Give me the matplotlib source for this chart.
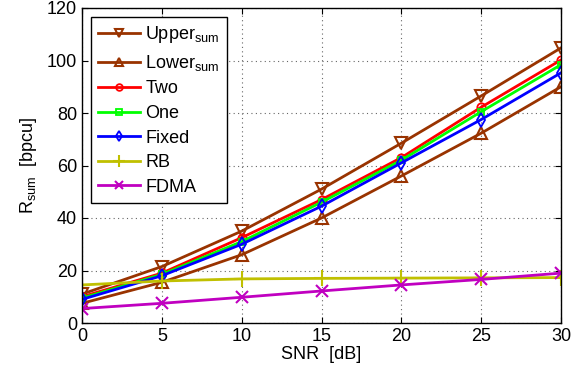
import matplotlib
matplotlib.use("Agg")
import matplotlib.pyplot as plt

plt.rcParams['font.family'] = ['Liberation Sans', 'DejaVu Sans']
plt.rcParams['mathtext.fontset'] = 'custom'
plt.rcParams['mathtext.rm'] = 'Liberation Sans'

snr = [0, 5, 10, 15, 20, 25, 30]
upper = [11, 21.5, 35, 51, 68.5, 86.5, 104.8]
lower = [7.5, 15.5, 26, 40, 56, 72.3, 90]
two = [10, 19, 32.5, 47, 63, 82.2, 100.2]
one = [9.5, 18.5, 31, 46, 62, 80.5, 98.4]
fixed = [9, 18, 30, 44.5, 61, 77.5, 95.3]
rb = [14.5, 16, 16.8, 17, 17.1, 17.2, 17.3]
fdma = [5.5, 7.5, 9.8, 12.2, 14.5, 16.6, 19]

brown = '#993300'
fig = plt.figure(figsize=(5.82, 3.71), dpi=100)
ax = fig.add_axes([82/582, 48/371, 479/582, 315/371])

ax.plot(snr, upper, color=brown, marker='v', ms=8, mfc='none', mew=1.5, lw=2, label=r'Upper$_{\rm sum}$')
ax.plot(snr, lower, color=brown, marker='^', ms=8, mfc='none', mew=1.5, lw=2, label=r'Lower$_{\rm sum}$')
ax.plot(snr, two, color='red', marker='o', ms=6, mfc='none', mew=1.3, lw=2, label='Two')
ax.plot(snr, one, color='#00ff00', marker='s', ms=5, mfc='none', mew=1.3, lw=2, label='One')
ax.plot(snr, fixed, color='blue', marker='d', ms=7, mfc='none', mew=1.3, lw=2, label='Fixed')
ax.plot(snr, rb, color='#c0c000', marker='+', ms=11, mew=1.5, lw=2, label='RB')
ax.plot(snr, fdma, color='#c000c0', marker='x', ms=8, mew=1.5, lw=2, label='FDMA')

ax.set_xlim(0, 30)
ax.set_ylim(0, 120)
ax.set_xticks(snr)
ax.set_yticks(range(0, 121, 20))
ax.grid(True, linestyle=(0, (1, 3)), color='#666666', lw=0.8)
ax.tick_params(direction='in', labelsize=13, length=4, top=True, right=True)
for s in ax.spines.values():
    s.set_linewidth(1.0)
ax.set_xlabel('SNR  [dB]', fontsize=13, labelpad=1)
ax.set_ylabel(r'R$_{\rm sum}$  [bpcu]', fontsize=13, labelpad=6)

leg = ax.legend(loc='upper left', fontsize=13, fancybox=False, edgecolor='black',
                framealpha=1, borderaxespad=0.5, handlelength=2.3, labelspacing=0.42,
                handletextpad=0.3, markerscale=0.8)
leg.get_frame().set_linewidth(1.0)

fig.savefig('out.png', dpi=100)
